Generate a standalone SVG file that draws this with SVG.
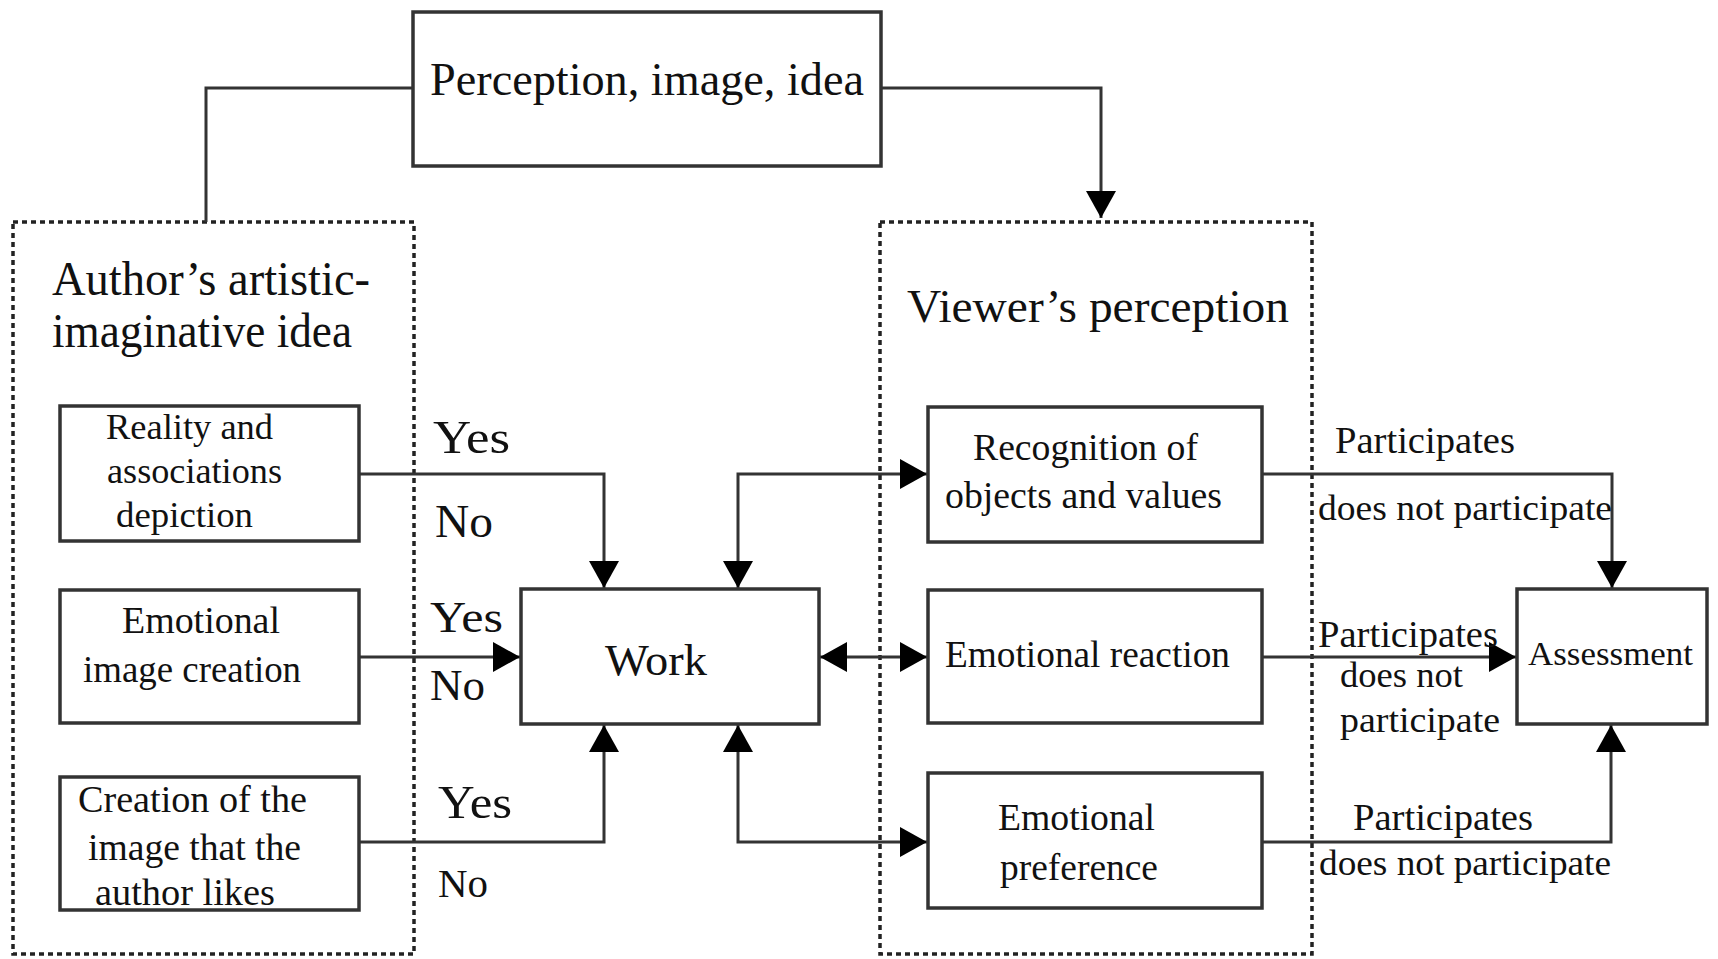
<svg xmlns="http://www.w3.org/2000/svg" width="1718" height="959" viewBox="0 0 1718 959">
<style>
.box{fill:#fff;stroke:#333;stroke-width:3.5}
.grp{fill:none;stroke:#222;stroke-width:3.5;stroke-dasharray:5 4}
.c{fill:none;stroke:#333;stroke-width:3}
text{font-family:"Liberation Serif","Times New Roman",serif;fill:#111}
</style>
<defs>
<marker id="ah" viewBox="0 0 27 30" refX="27" refY="15" markerWidth="27" markerHeight="30" markerUnits="userSpaceOnUse" orient="auto-start-reverse">
<path d="M0,0 L27,15 L0,30 z" fill="#000"/>
</marker>
</defs>
<rect width="1718" height="959" fill="#fff"/>

<g id="group-author">
<rect class="grp" x="13" y="222" width="401" height="732"/>
<text x="52" y="295" font-size="48" textLength="318" lengthAdjust="spacingAndGlyphs">Author’s artistic-</text>
<text x="52" y="347" font-size="48" textLength="300" lengthAdjust="spacingAndGlyphs">imaginative idea</text>
</g>
<g id="group-viewer">
<rect class="grp" x="880" y="222" width="432" height="732"/>
<text x="907" y="322" font-size="47" textLength="382" lengthAdjust="spacingAndGlyphs">Viewer’s perception</text>
</g>

<g id="connectors">
<path class="c" d="M413,88 H206 V222"/>
<path class="c" d="M881,88 H1101 V218" marker-end="url(#ah)"/>
<path class="c" d="M359,474 H604 V588" marker-end="url(#ah)"/>
<path class="c" d="M359,657 H520" marker-end="url(#ah)"/>
<path class="c" d="M359,842 H604 V725" marker-end="url(#ah)"/>
<path class="c" d="M738,588 V474 H927" marker-start="url(#ah)" marker-end="url(#ah)"/>
<path class="c" d="M820,657 H927" marker-start="url(#ah)" marker-end="url(#ah)"/>
<path class="c" d="M738,725 V842 H927" marker-start="url(#ah)" marker-end="url(#ah)"/>
<path class="c" d="M1262,474 H1612 V588" marker-end="url(#ah)"/>
<path class="c" d="M1262,657 H1516" marker-end="url(#ah)"/>
<path class="c" d="M1262,842 H1611 V725" marker-end="url(#ah)"/>
</g>

<g id="node-perception">
<rect class="box" x="413" y="12" width="468" height="154"/>
<text x="430" y="95" font-size="46" textLength="434" lengthAdjust="spacingAndGlyphs">Perception, image, idea</text>
</g>

<g id="node-reality">
<rect class="box" x="60" y="406" width="299" height="135"/>
<text x="106" y="439" font-size="36" textLength="167" lengthAdjust="spacingAndGlyphs">Reality and</text>
<text x="107" y="483" font-size="36" textLength="175" lengthAdjust="spacingAndGlyphs">associations</text>
<text x="116" y="527" font-size="36" textLength="137" lengthAdjust="spacingAndGlyphs">depiction</text>
</g>
<g id="node-emotional-image">
<rect class="box" x="60" y="590" width="299" height="133"/>
<text x="122" y="633" font-size="37" textLength="158" lengthAdjust="spacingAndGlyphs">Emotional</text>
<text x="83" y="682" font-size="37" textLength="218" lengthAdjust="spacingAndGlyphs">image creation</text>
</g>
<g id="node-creation-liked">
<rect class="box" x="60" y="777" width="299" height="133"/>
<text x="78" y="812" font-size="37" textLength="229" lengthAdjust="spacingAndGlyphs">Creation of the</text>
<text x="88" y="860" font-size="37" textLength="213" lengthAdjust="spacingAndGlyphs">image that the</text>
<text x="95" y="905" font-size="37" textLength="180" lengthAdjust="spacingAndGlyphs">author likes</text>
</g>

<g id="labels-yes-no">
<text x="433" y="453" font-size="46" textLength="77" lengthAdjust="spacingAndGlyphs">Yes</text>
<text x="435" y="537" font-size="46" textLength="58" lengthAdjust="spacingAndGlyphs">No</text>
<text x="430" y="632" font-size="44" textLength="73" lengthAdjust="spacingAndGlyphs">Yes</text>
<text x="430" y="700" font-size="44" textLength="55" lengthAdjust="spacingAndGlyphs">No</text>
<text x="438" y="818" font-size="46" textLength="74" lengthAdjust="spacingAndGlyphs">Yes</text>
<text x="438" y="897" font-size="40" textLength="50" lengthAdjust="spacingAndGlyphs">No</text>
</g>

<g id="node-work">
<rect class="box" x="521" y="589" width="298" height="135"/>
<text x="605" y="675" font-size="45" textLength="102" lengthAdjust="spacingAndGlyphs">Work</text>
</g>

<g id="node-recognition">
<rect class="box" x="928" y="407" width="334" height="135"/>
<text x="973" y="460" font-size="37" textLength="225" lengthAdjust="spacingAndGlyphs">Recognition of</text>
<text x="945" y="508" font-size="37" textLength="277" lengthAdjust="spacingAndGlyphs">objects and values</text>
</g>
<g id="node-emotional-reaction">
<rect class="box" x="928" y="590" width="334" height="133"/>
<text x="945" y="667" font-size="37" textLength="285" lengthAdjust="spacingAndGlyphs">Emotional reaction</text>
</g>
<g id="node-emotional-preference">
<rect class="box" x="928" y="773" width="334" height="135"/>
<text x="998" y="830" font-size="37" textLength="157" lengthAdjust="spacingAndGlyphs">Emotional</text>
<text x="1000" y="880" font-size="37" textLength="158" lengthAdjust="spacingAndGlyphs">preference</text>
</g>

<g id="node-assessment">
<rect class="box" x="1517" y="589" width="190" height="135"/>
<text x="1528" y="665" font-size="34" textLength="165" lengthAdjust="spacingAndGlyphs">Assessment</text>
</g>

<g id="labels-participation">
<text x="1335" y="453" font-size="38" textLength="180" lengthAdjust="spacingAndGlyphs">Participates</text>
<text x="1318" y="520" font-size="36" textLength="294" lengthAdjust="spacingAndGlyphs">does not participate</text>
<text x="1318" y="647" font-size="38" textLength="180" lengthAdjust="spacingAndGlyphs">Participates</text>
<text x="1340" y="687" font-size="36" textLength="123" lengthAdjust="spacingAndGlyphs">does not</text>
<text x="1340" y="732" font-size="36" textLength="160" lengthAdjust="spacingAndGlyphs">participate</text>
<text x="1353" y="830" font-size="38" textLength="180" lengthAdjust="spacingAndGlyphs">Participates</text>
<text x="1319" y="875" font-size="36" textLength="292" lengthAdjust="spacingAndGlyphs">does not participate</text>
</g>
</svg>
